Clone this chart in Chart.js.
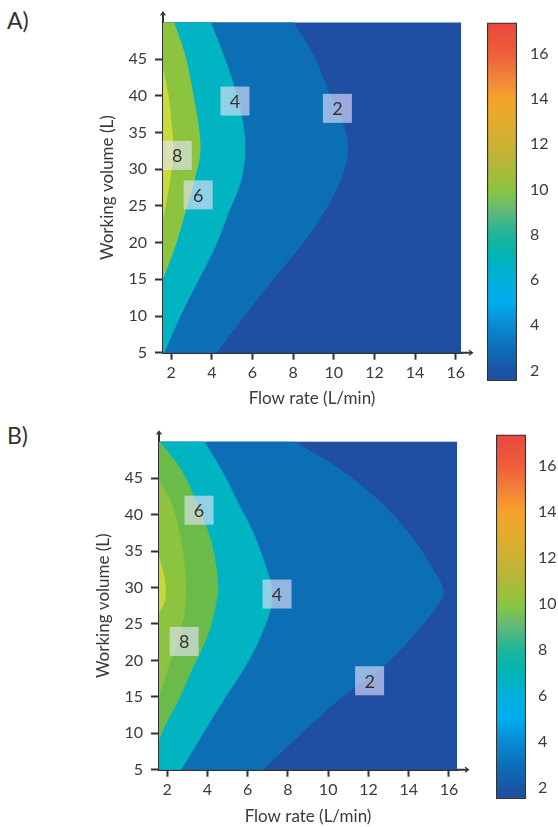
<!DOCTYPE html>
<html>
<head>
<meta charset="utf-8">
<script src="https://cdn.jsdelivr.net/npm/chart.js@4.4.1/dist/chart.umd.min.js"></script>
<style>
  body { margin: 0; background: #fff; width: 558px; height: 827px; position: relative; overflow: hidden; font-family: Lato, sans-serif; }
  canvas { position: absolute; }
  .panel { position: absolute; left: 7px; font-size: 23px; line-height: 1; color: #333; }
</style>
</head>
<body>
<div class="panel" style="top:9px">A)</div>
<div class="panel" style="top:424px">B)</div>
<canvas id="mapA" width="558" height="413" style="left:0;top:0"></canvas>
<canvas id="barA" width="88" height="413" style="left:470px;top:0"></canvas>
<canvas id="mapB" width="558" height="414" style="left:0;top:413px"></canvas>
<canvas id="barB" width="88" height="414" style="left:470px;top:413px"></canvas>
<script>
// axis ticks
const FLOW_TICKS = [2, 4, 6, 8, 10, 12, 14, 16];
const VOL_TICKS = [5, 10, 15, 20, 25, 30, 35, 40, 45];
const CB_TICKS = [2, 4, 6, 8, 10, 12, 14, 16];
const FLOW_MIN = 1.6;
const VOL_MIN = 5, VOL_MAX = 50;

// contour lines, [flow rate, working volume]
const A_LEVEL2 = [[4.25, 5], [5.73, 10.4], [7.0, 14.9], [8.35, 19.4], [9.5, 24], [10.35, 28.5], [10.7, 32.9], [10.5, 36], [9.83, 40.1], [9.0, 45.6], [8.03, 50]];
const A_LEVEL4 = [[1.66, 5], [2.53, 10.4], [3.35, 14.9], [4.17, 19.4], [4.82, 24], [5.45, 28.5], [5.65, 32.9], [5.56, 36], [5.24, 40.1], [4.58, 45.6], [3.96, 50]];
const A_LEVEL6 = [[1.6, 15], [2.2, 19.4], [2.69, 24], [3.15, 28.5], [3.45, 32.9], [3.35, 36], [3.1, 40.1], [2.69, 45.6], [2.15, 50]];
const A_LEVEL8 = [[1.6, 23], [1.95, 28.5], [2.12, 32.5], [2.03, 36], [1.87, 40.1], [1.6, 43.8]];
const A_LABELS = [['4', 5.14, 39.3], ['2', 10.18, 38.3], ['8', 2.3, 31.9], ['6', 3.33, 26.5]];

const B_LEVEL2 = [[6.78, 5], [8.69, 10], [10.5, 14.5], [12.7, 19.05], [14.3, 23.6], [15.3, 27], [15.75, 29.3], [15.2, 32.5], [14.15, 37], [12.66, 41.6], [10.67, 46.1], [8.36, 50]];
const B_LEVEL4 = [[2.7, 5], [3.8, 10], [4.8, 14.5], [5.87, 19.05], [6.7, 23.6], [7.2, 28.2], [7.2, 30], [6.95, 32.5], [6.37, 37], [5.54, 41.6], [4.72, 46.1], [3.85, 50]];
const B_LEVEL6 = [[1.6, 8.8], [1.74, 10], [2.56, 14.5], [3.3, 19.05], [4.05, 23.6], [4.47, 28.2], [4.55, 29.8], [4.47, 32.5], [4.13, 37], [3.47, 41.6], [2.73, 46.1], [1.65, 50]];
const B_LEVEL8 = [[1.6, 15], [2.07, 19.05], [2.65, 23.6], [2.93, 28.2], [2.94, 30], [2.9, 32.5], [2.65, 37], [2.23, 41.6], [1.6, 44.8]];
const B_LEVEL10 = [[1.6, 26.4], [1.9, 28.2], [1.94, 29.5], [1.9, 31.1], [1.6, 34.3]];
const B_LABELS = [['6', 3.59, 40.6], ['4', 7.46, 29.1], ['8', 2.85, 22.6], ['2', 12.06, 17.2]];

// colour bar
const CB_MIN = 1.53, CB_MAX = 17.38;
const CB_VALUES = [1.53, 2, 3, 4, 5, 6, 7, 8, 9, 10, 11, 12, 13, 14, 15, 16, 17.38];
const CB_COLORS = ['#1f4ea3', '#1a55a5', '#0c6ebb', '#0a8ad2', '#00adef', '#02b0dc', '#00b4b6', '#1db59a', '#5fb97a', '#8bc540', '#b0b83a', '#cdb132', '#e2ac2d', '#f6a329', '#f2803a', '#ee5e3b', '#e9473e'];

const INK = '#333';
Chart.defaults.font.family = 'Lato, sans-serif';
Chart.defaults.font.size = 16;
Chart.defaults.color = '#3a3a3a';

const plotBg = {
    id: 'plotBg',
    beforeDatasetsDraw(chart) {
        const a = chart.chartArea, ctx = chart.ctx;
        ctx.save();
        ctx.fillStyle = '#1f4ea3';
        ctx.fillRect(a.left, a.top, a.right - a.left, a.bottom - a.top);
        ctx.restore();
    }
};

const axisArrows = {
    id: 'axisArrows',
    afterDraw(chart) {
        const {ctx, chartArea: a} = chart;
        ctx.save();
        ctx.strokeStyle = INK;
        ctx.lineWidth = 2;
        ctx.beginPath();
        ctx.moveTo(a.left, a.top);
        ctx.lineTo(a.left, a.top - 10);
        ctx.moveTo(a.right, a.bottom);
        ctx.lineTo(a.right + 11, a.bottom);
        ctx.stroke();
        ctx.lineWidth = 1.2;
        ctx.beginPath();
        ctx.moveTo(a.left - 2.5, a.top - 7);
        ctx.lineTo(a.left, a.top - 10.5);
        ctx.lineTo(a.left + 2.5, a.top - 7);
        ctx.moveTo(a.right + 8, a.bottom - 2.5);
        ctx.lineTo(a.right + 11.5, a.bottom);
        ctx.lineTo(a.right + 8, a.bottom + 2.5);
        ctx.stroke();
        ctx.restore();
    }
};

const contourLabels = {
    id: 'contourLabels',
    afterDatasetsDraw(chart, args, opts) {
        const {ctx, scales: {x, y}} = chart;
        ctx.save();
        ctx.font = '18px Lato, sans-serif';
        ctx.textAlign = 'center';
        ctx.textBaseline = 'middle';
        opts.items.forEach(([text, flow, vol]) => {
            const px = x.getPixelForValue(flow), py = y.getPixelForValue(vol);
            ctx.fillStyle = 'rgba(232, 228, 252, 0.62)';
            ctx.fillRect(px - 14.5, py - 14.5, 29, 29);
            ctx.fillStyle = INK;
            ctx.fillText(text, px, py + 1);
        });
        ctx.restore();
    }
};

// area left of a contour line; the ends are continued outside the plot
// so the monotone curve keeps its slope at the plot border
function region(line) {
    const pts = line.map(([x, y]) => ({x, y}));
    const n = pts.length;
    const out = (a, b) => ({x: 2 * a.x - b.x, y: 2 * a.y - b.y});
    const lo = out(pts[0], pts[1]), hi = out(pts[n - 1], pts[n - 2]);
    const far = FLOW_MIN - 10;
    return [{x: far, y: lo.y}, lo, ...pts, hi, {x: far, y: hi.y}];
}

function contourChart(id, lines, colors, labels, g) {
    const datasets = lines.map((line, i) => ({
        data: region(line),
        backgroundColor: colors[i],
        borderWidth: 0,
        pointRadius: 0,
        fill: 'shape',
        cubicInterpolationMode: 'monotone',
        order: lines.length - i
    }));
    return new Chart(document.getElementById(id), {
        type: 'line',
        data: {datasets},
        plugins: [plotBg, contourLabels, axisArrows],
        options: {
            indexAxis: 'y',
            responsive: false,
            animation: false,
            devicePixelRatio: 1,
            layout: {padding: {left: 0, top: g.top, right: g.right, bottom: 0}},
            plugins: {
                legend: {display: false},
                tooltip: {enabled: false},
                contourLabels: {items: labels}
            },
            scales: {
                x: {
                    type: 'linear',
                    position: 'bottom',
                    min: FLOW_MIN,
                    max: g.xMax,
                    afterBuildTicks: s => { s.ticks = FLOW_TICKS.map(v => ({value: v})); },
                    afterFit: s => { s.height = g.xH; },
                    grid: {drawOnChartArea: false, tickLength: 7, tickWidth: 2, tickColor: INK},
                    border: {color: INK, width: 2},
                    ticks: {padding: 4},
                    title: {display: true, text: 'Flow rate (L/min)', font: {size: 17}, padding: {top: 0, bottom: g.xTitlePad}}
                },
                y: {
                    type: 'linear',
                    position: 'left',
                    min: VOL_MIN,
                    max: VOL_MAX,
                    afterBuildTicks: s => { s.ticks = VOL_TICKS.map(v => ({value: v})); },
                    afterFit: s => { s.width = g.yW; },
                    grid: {drawOnChartArea: false, tickLength: 8, tickWidth: 2, tickColor: INK},
                    border: {color: INK, width: 2},
                    ticks: {padding: 8},
                    title: {display: true, text: 'Working volume (L)', font: {size: 17}, padding: {top: g.yTitlePad, bottom: 0}}
                }
            }
        }
    });
}

function colorBar(id, g) {
    return new Chart(document.getElementById(id), {
        type: 'bar',
        data: {
            labels: [''],
            datasets: [{
                data: [[CB_MIN, CB_MAX]],
                backgroundColor: c => {
                    const {chart} = c;
                    if (!chart.chartArea) return CB_COLORS[0];
                    const y = chart.scales.y;
                    const grad = chart.ctx.createLinearGradient(0, y.getPixelForValue(CB_MIN), 0, y.getPixelForValue(CB_MAX));
                    CB_VALUES.forEach((v, i) => grad.addColorStop((v - CB_MIN) / (CB_MAX - CB_MIN), CB_COLORS[i]));
                    return grad;
                },
                borderColor: INK,
                borderWidth: 1.5,
                borderSkipped: false,
                barPercentage: 1,
                categoryPercentage: 1
            }]
        },
        options: {
            responsive: false,
            animation: false,
            devicePixelRatio: 1,
            layout: {padding: {left: g.left, top: g.top, right: 0, bottom: g.bottom}},
            plugins: {legend: {display: false}, tooltip: {enabled: false}},
            scales: {
                x: {display: false},
                y: {
                    position: 'right',
                    min: CB_MIN,
                    max: CB_MAX,
                    afterBuildTicks: s => { s.ticks = CB_TICKS.map(v => ({value: v})); },
                    afterFit: s => { s.width = g.axisW; },
                    grid: {display: false, drawTicks: false},
                    border: {display: false},
                    ticks: {padding: g.pad}
                }
            }
        }
    });
}

document.addEventListener('DOMContentLoaded', () => {
    contourChart('mapA', [A_LEVEL2, A_LEVEL4, A_LEVEL6, A_LEVEL8],
        ['#0c6fb5', '#00b4c1', '#8cc43f', '#c9da3b'], A_LABELS,
        {top: 22.5, right: 97, xMax: 16.26, xH: 60.3, yW: 163, xTitlePad: 4, yTitlePad: 97});
    contourChart('mapB', [B_LEVEL2, B_LEVEL4, B_LEVEL6, B_LEVEL8, B_LEVEL10],
        ['#0c6fb5', '#00b4c1', '#6bbb4b', '#8dc43f', '#c7d93a'], B_LABELS,
        {top: 28.7, right: 101, xMax: 16.4, xH: 57.3, yW: 159, xTitlePad: 0, yTitlePad: 93});
    colorBar('barA', {left: 17, top: 13, bottom: 32, axisW: 41, pad: 13});
    colorBar('barB', {left: 26, top: 18, bottom: 28, axisW: 32, pad: 12});
});
</script>
</body>
</html>
